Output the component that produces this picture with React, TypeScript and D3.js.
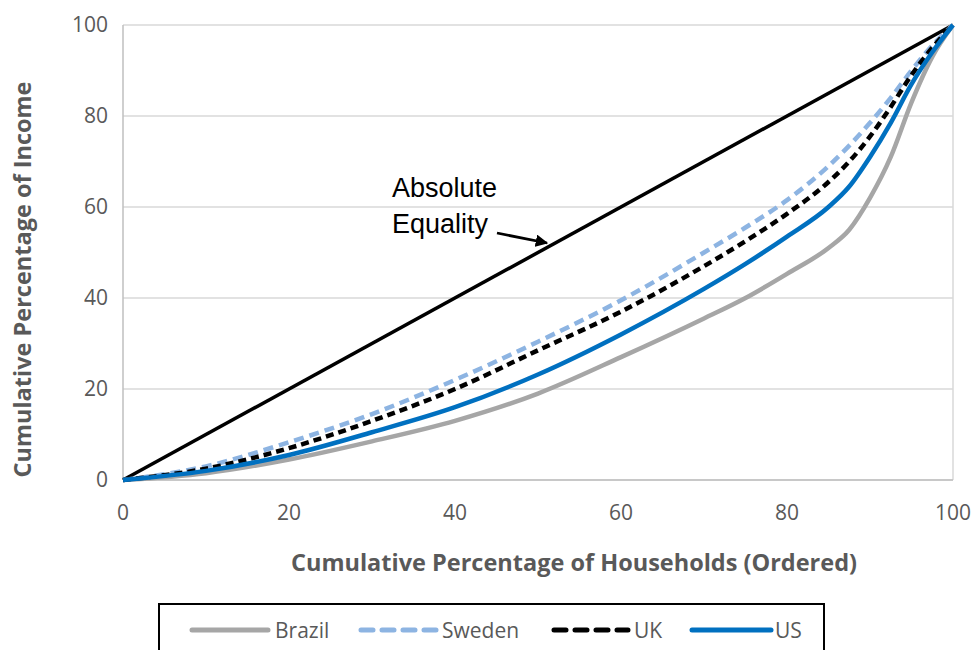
import React from "react";
import * as d3 from "d3";

const xs = [0, 10, 20, 30, 40, 50, 60, 70, 75, 80, 85, 87.5, 90, 92.5, 95, 97.5, 100];
const brazil = [0, 1.5, 4.5, 8.5, 13, 19, 27, 35.5, 40, 45.3, 51, 55, 62, 71, 83, 93, 100];
const us = [0, 2, 5.5, 10.5, 16, 23.2, 32, 42, 47.5, 53.5, 60, 64.5, 71, 78.5, 87, 94, 100];
const uk = [0, 2.5, 7, 13, 20, 28.5, 37, 47, 52.5, 58.5, 65.5, 70, 75.5, 82, 89, 95, 100];
const sweden = [0, 3, 8.3, 14.5, 22, 30.4, 39.5, 50, 55.5, 61.5, 69, 73.5, 78.5, 84, 90, 95.5, 100];
const equalityX = [0, 100];
const equalityY = [0, 100];
const ticks = [0, 20, 40, 60, 80, 100];

const seriesNames = ["Brazil", "Sweden", "UK", "US"];
const seriesData = [brazil, sweden, uk, us];
const seriesColors = ["#a6a6a6", "#8db4e2", "#000000", "#0070c0"];
const seriesDash = [null, "10,6", "8,5", null];

export default function App() {
  const W = 972, H = 650;
  const left = 123, right = 953, top = 25, bottom = 480;
  const x = d3.scaleLinear().domain([0, 100]).range([left, right]);
  const y = d3.scaleLinear().domain([0, 100]).range([bottom, top]);
  const line = d3
    .line<[number, number]>()
    .x((d) => x(d[0]))
    .y((d) => y(d[1]))
    .curve(d3.curveMonotoneX);
  const font = "'Open Sans', 'Liberation Sans', sans-serif";
  const gray = "#595959";
  const legendItems = [
    { x0: 192, x1: 268, tx: 275 },
    { x0: 361, x1: 436, tx: 442 },
    { x0: 554, x1: 628, tx: 634 },
    { x0: 692, x1: 771, tx: 775 },
  ];
  return (
    <svg width={W} height={H} style={{ position: "absolute", left: 0, top: 0, background: "#fff" }}>
      <defs>
        <marker id="arr" viewBox="0 0 10 10" refX="9" refY="5" markerWidth="4.5" markerHeight="4.5" orient="auto">
          <path d="M0,0 L10,5 L0,10 z" fill="#000" />
        </marker>
      </defs>
      {ticks.map((t) => (
        <line key={"gy" + t} x1={left} x2={right} y1={y(t)} y2={y(t)} stroke="#d9d9d9" strokeWidth={1.5} />
      ))}
      <line x1={right} x2={right} y1={top} y2={bottom} stroke="#d9d9d9" strokeWidth={1.5} />
      <line x1={left} x2={left} y1={top} y2={bottom} stroke="#bfbfbf" strokeWidth={1.5} />
      <line x1={left} x2={right} y1={bottom} y2={bottom} stroke="#bfbfbf" strokeWidth={1.5} />
      {ticks.map((t) => (
        <text key={"ty" + t} x={108} y={y(t)} dy="0.35em" textAnchor="end" fontFamily={font} fontSize={21} fill={gray}>
          {t}
        </text>
      ))}
      {ticks.map((t) => (
        <text key={"tx" + t} x={x(t)} y={520} textAnchor="middle" fontFamily={font} fontSize={21} fill={gray}>
          {t}
        </text>
      ))}
      <text x={574} y={571} textAnchor="middle" fontFamily={font} fontSize={23.5} fontWeight="bold" fill={gray}>
        Cumulative Percentage of Households (Ordered)
      </text>
      <text
        transform={`translate(31,${(top + bottom) / 2 + 27}) rotate(-90)`}
        textAnchor="middle"
        fontFamily={font}
        fontSize={23.5}
        fontWeight="bold"
        fill={gray}
      >
        Cumulative Percentage of Income
      </text>
      <path
        d={line(equalityX.map((v, i) => [v, equalityY[i]] as [number, number])) || ""}
        fill="none"
        stroke="#000"
        strokeWidth={3.5}
      />
      {seriesData.map((s, k) => (
        <path
          key={seriesNames[k]}
          d={line(xs.map((v, i) => [v, s[i]] as [number, number])) || ""}
          fill="none"
          stroke={seriesColors[k]}
          strokeWidth={4.5}
          strokeDasharray={seriesDash[k] || undefined}
        />
      ))}
      <text x={392} y={197} fontFamily="'Liberation Sans', Arial, sans-serif" fontSize={27} fill="#000">
        Absolute
      </text>
      <text x={392} y={233} fontFamily="'Liberation Sans', Arial, sans-serif" fontSize={27} fill="#000">
        Equality
      </text>
      <line x1={497} y1={233} x2={547} y2={243} stroke="#000" strokeWidth={2.8} markerEnd="url(#arr)" />
      <rect x={159} y={604} width={665} height={60} fill="#fff" stroke="#000" strokeWidth={2} />
      {seriesNames.map((n, k) => (
        <g key={"lg" + n}>
          <line
            x1={legendItems[k].x0}
            x2={legendItems[k].x1}
            y1={630}
            y2={630}
            stroke={seriesColors[k]}
            strokeWidth={5}
            strokeLinecap="round"
            strokeDasharray={seriesDash[k] ? "12,9" : undefined}
          />
          <text x={legendItems[k].tx} y={630} dy="0.36em" fontFamily={font} fontSize={21} fill={gray}>
            {n}
          </text>
        </g>
      ))}
    </svg>
  );
}
